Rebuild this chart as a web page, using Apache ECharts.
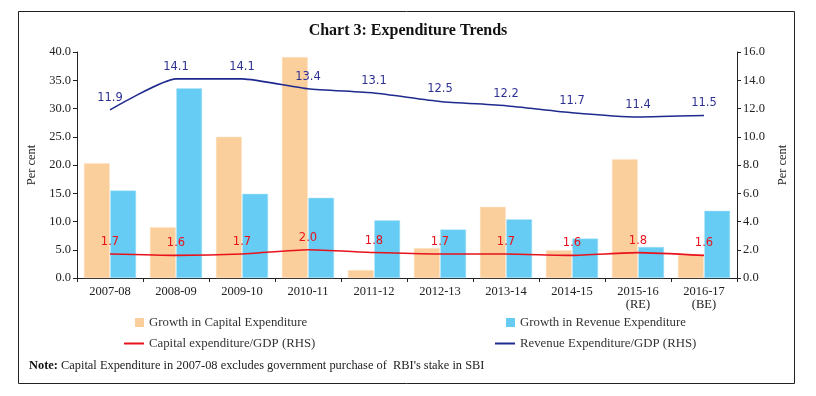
<!DOCTYPE html>
<html><head><meta charset="utf-8">
<script src="https://cdn.jsdelivr.net/npm/echarts@6/dist/echarts.min.js"></script>
<style>html,body{margin:0;padding:0;background:#fff}#c{width:816px;height:396px}</style>
</head><body><div id="c"></div>
<script>
const categories = ['2007-08','2008-09','2009-10','2010-11','2011-12','2012-13','2013-14','2014-15','2015-16\n(RE)','2016-17\n(BE)'];
const capGrowth = [20.3, 9.0, 25.0, 39.1, 1.4, 5.3, 12.6, 4.9, 21.0, 4.1];
const revGrowth = [15.5, 33.6, 14.9, 14.2, 10.2, 8.6, 10.4, 7.0, 5.5, 11.9];
const capGDP = [1.7, 1.6, 1.7, 2.0, 1.8, 1.7, 1.7, 1.6, 1.8, 1.6];
const revGDP = [11.9, 14.1, 14.1, 13.4, 13.1, 12.5, 12.2, 11.7, 11.4, 11.5];
const leftTicks = [0, 40, 5];
const rightTicks = [0, 16, 2];

const serif = '"Liberation Serif", "DejaVu Serif", serif';
const sans = '"DejaVu Sans", Verdana, sans-serif';
const chart = echarts.init(document.getElementById('c'), null, {renderer: 'canvas'});
const lbl = {fontFamily: serif, fontSize: 12.5, color: '#222'};
const legendBase = {orient: 'horizontal', itemGap: 0, padding: 0, itemStyle: {borderWidth: 0}, textStyle: {fontFamily: serif, fontSize: 12.8, color: '#333'}};
chart.setOption({
  animation: false,
  title: {text: 'Chart 3: Expenditure Trends', left: 'center', top: 18,
    textStyle: {fontFamily: serif, fontSize: 16, fontWeight: 'bold', color: '#111'}},
  grid: {left: 77, right: 79, top: 52, bottom: 118},
  legend: [
    Object.assign({}, legendBase, {left: 135, top: 316, itemWidth: 9, itemHeight: 9, data: [{name: 'Growth in Capital Expenditure', icon: 'rect'}]}),
    Object.assign({}, legendBase, {left: 506, top: 316, itemWidth: 9, itemHeight: 9, data: [{name: 'Growth in Revenue Expenditure', icon: 'rect'}]}),
    Object.assign({}, legendBase, {left: 124, top: 337, itemWidth: 20, itemHeight: 2, data: [{name: 'Capital expenditure/GDP (RHS)', icon: 'rect'}]}),
    Object.assign({}, legendBase, {left: 495, top: 337, itemWidth: 20, itemHeight: 2, data: [{name: 'Revenue Expenditure/GDP (RHS)', icon: 'rect'}]})
  ],
  xAxis: {type: 'category', data: categories,
    axisLine: {lineStyle: {color: '#222'}},
    axisTick: {show: true, length: 4, lineStyle: {color: '#222'}},
    axisLabel: Object.assign({}, lbl, {margin: 7, lineHeight: 13})},
  yAxis: [
    {type: 'value', min: leftTicks[0], max: leftTicks[1], interval: leftTicks[2],
      name: 'Per cent', nameLocation: 'middle', nameGap: 36, nameRotate: 90,
      nameTextStyle: {fontFamily: serif, fontSize: 12.5, color: '#222'},
      axisLine: {show: true, lineStyle: {color: '#222'}},
      axisTick: {show: true, length: 4, lineStyle: {color: '#222'}},
      splitLine: {show: false},
      axisLabel: Object.assign({}, lbl, {margin: 6, formatter: v => v.toFixed(1)})},
    {type: 'value', min: rightTicks[0], max: rightTicks[1], interval: rightTicks[2], position: 'right',
      name: 'Per cent', nameLocation: 'middle', nameGap: 38, nameRotate: 90,
      nameTextStyle: {fontFamily: serif, fontSize: 12.5, color: '#222'},
      axisLine: {show: true, lineStyle: {color: '#222'}},
      axisTick: {show: true, length: 4, lineStyle: {color: '#222'}},
      splitLine: {show: false},
      axisLabel: Object.assign({}, lbl, {margin: 6, formatter: v => v.toFixed(1)})}
  ],
  series: [
    {name: 'Growth in Capital Expenditure', type: 'bar', data: capGrowth, barGap: '2%', barCategoryGap: '21%',
      itemStyle: {color: '#FBCF9C', borderColor: '#FDE3C6', borderWidth: 0.5}},
    {name: 'Growth in Revenue Expenditure', type: 'bar', data: revGrowth,
      itemStyle: {color: '#66CCF3', borderColor: '#B5E6FA', borderWidth: 0.5}},
    {name: 'Capital expenditure/GDP (RHS)', type: 'line', yAxisIndex: 1, data: capGDP, smooth: 0.18,
      showSymbol: true, symbol: 'circle', symbolSize: 0.1, lineStyle: {color: '#E8121C', width: 1.6}, itemStyle: {color: '#E8121C'},
      label: {show: true, position: 'top', distance: 6, fontFamily: sans, fontSize: 11.5, color: '#E8121C', formatter: p => p.value.toFixed(1)}},
    {name: 'Revenue Expenditure/GDP (RHS)', type: 'line', yAxisIndex: 1, data: revGDP, smooth: 0.18,
      showSymbol: true, symbol: 'circle', symbolSize: 0.1, lineStyle: {color: '#1F2A8E', width: 1.6}, itemStyle: {color: '#1F2A8E'},
      label: {show: true, position: 'top', distance: 6, fontFamily: sans, fontSize: 11.5, color: '#2E3192', formatter: p => p.value.toFixed(1)}}
  ],
  graphic: [
    {type: 'rect', shape: {x: 18.5, y: 11.5, width: 776, height: 372}, style: {fill: 'none', stroke: '#222', lineWidth: 1}, silent: true},
    {type: 'text', left: 29, top: 360, style: {
      text: '{b|Note:} Capital Expenditure in 2007-08 excludes government purchase of  RBI\'s stake in SBI',
      rich: {b: {fontFamily: serif, fontSize: 12.4, fontWeight: 'bold', fill: '#111'}},
      fontFamily: serif, fontSize: 12.4, fill: '#222'}}
  ]
});
</script></body></html>
